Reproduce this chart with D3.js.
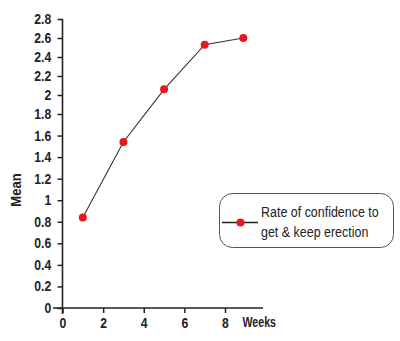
<!DOCTYPE html>
<html><head><meta charset="utf-8">
<script src="https://cdn.jsdelivr.net/npm/d3@7"></script>
<style>
html,body{margin:0;padding:0;background:#fff;}
text{font-family:"Liberation Sans Narrow","Arial Narrow","Liberation Sans",Arial,sans-serif;}
</style></head>
<body><svg id="c" width="400" height="341"></svg>
<script>
const weeks = [1, 3, 5, 7, 8.9];
const meanValues = [0.84, 1.54, 2.06, 2.53, 2.6];
const yTicks = [0, 0.2, 0.4, 0.6, 0.8, 1, 1.2, 1.4, 1.6, 1.8, 2, 2.2, 2.4, 2.6, 2.8];
const xTicks = [0, 2, 4, 6, 8];
const seriesName = ["Rate of confidence to", "get & keep erection"];

const svg = d3.select("#c");
const x = d3.scaleLinear().domain([0, 8]).range([62.5, 225]);
const y = d3.scaleLinear().domain([0, 1.8, 2.8]).range([308, 114, 19]);
const ink = "#222";
const sx = 0.87;

// y axis
const ya = svg.append("g").attr("transform", "translate(62.5,0)")
  .call(d3.axisLeft(y).tickValues(yTicks).tickSize(5).tickPadding(8)
    .tickFormat(d => String(+d.toFixed(1))));
ya.select(".domain").remove();
ya.selectAll("line").attr("stroke", ink).attr("stroke-width", 1.5);
ya.selectAll("text").attr("font-size", 14).attr("font-weight", "bold").attr("fill", ink)
  .attr("transform", `scale(${sx},1)`);
svg.append("line").attr("x1", 62.5).attr("x2", 62.5).attr("y1", y(2.8)).attr("y2", 314)
  .attr("stroke", ink).attr("stroke-width", 1.6);

// x axis
const xa = svg.append("g").attr("transform", "translate(0,308)")
  .call(d3.axisBottom(x).tickValues(xTicks).tickSize(5).tickPadding(5));
xa.select(".domain").remove();
xa.selectAll("line").attr("stroke", ink).attr("stroke-width", 1.5);
xa.selectAll("text").attr("font-size", 14).attr("font-weight", "bold").attr("fill", ink)
  .attr("transform", `scale(${sx},1)`);
svg.append("line").attr("x1", 53).attr("x2", 263).attr("y1", 308).attr("y2", 308)
  .attr("stroke", ink).attr("stroke-width", 1.6);

svg.append("text").attr("transform", "translate(242.5,327) scale(0.76,1)")
  .attr("font-size", 14).attr("font-weight", "bold").attr("fill", ink).text("Weeks");
svg.append("text").attr("transform", "translate(21,190) rotate(-90) scale(0.87,1)")
  .attr("text-anchor", "middle")
  .attr("font-size", 15).attr("font-weight", "bold").attr("fill", ink).text("Mean");

// series
const pts = weeks.map((w, i) => [w, meanValues[i]]);
svg.append("path").datum(pts)
  .attr("d", d3.line().x(d => x(d[0])).y(d => y(d[1])))
  .attr("fill", "none").attr("stroke", "#333").attr("stroke-width", 1.1);
svg.selectAll("circle.pt").data(pts).enter().append("circle").attr("class", "pt")
  .attr("cx", d => x(d[0])).attr("cy", d => y(d[1])).attr("r", 4)
  .attr("fill", "#e8161e");

// legend
const lg = svg.append("g");
lg.append("rect").attr("x", 219.5).attr("y", 193.5).attr("width", 174).attr("height", 54)
  .attr("rx", 13).attr("fill", "#fff").attr("stroke", "#555").attr("stroke-width", 1);
lg.append("line").attr("x1", 222).attr("x2", 258).attr("y1", 222.5).attr("y2", 222.5)
  .attr("stroke", "#222").attr("stroke-width", 1.3);
lg.append("circle").attr("cx", 240.5).attr("cy", 222.5).attr("r", 4).attr("fill", "#e8161e");
lg.selectAll("text.l").data(seriesName).enter().append("text").attr("class", "l")
  .attr("transform", (d, i) => `translate(261,${217 + i * 20}) scale(0.89,1)`)
  .attr("font-size", 14).attr("fill", "#222")
  .text(d => d);
</script></body></html>
